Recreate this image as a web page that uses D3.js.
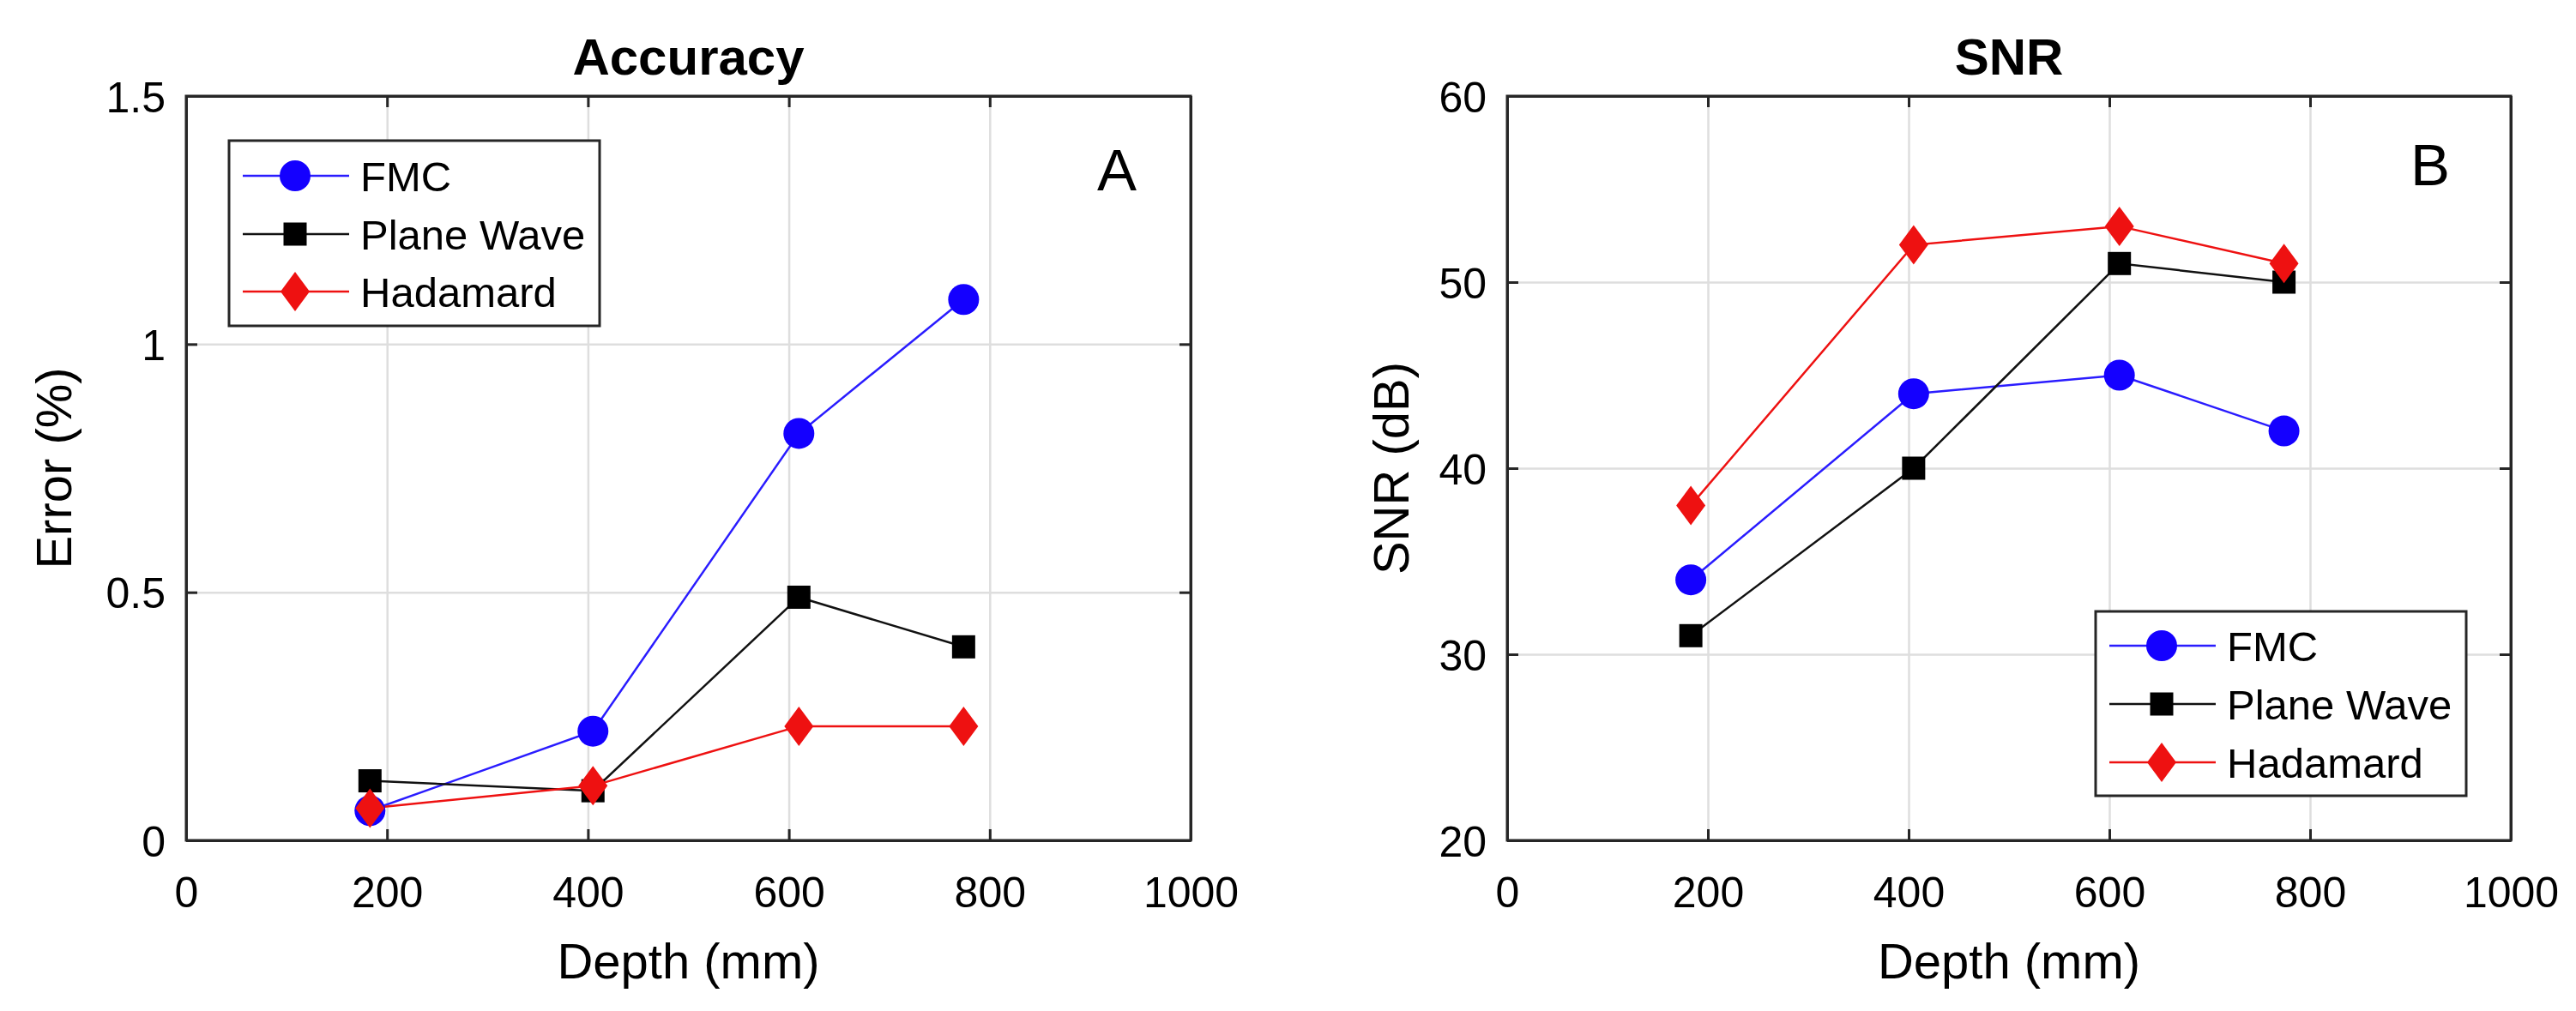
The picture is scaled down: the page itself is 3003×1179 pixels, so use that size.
<!DOCTYPE html>
<html>
<head>
<meta charset="utf-8">
<script src="https://cdn.jsdelivr.net/npm/d3@7"></script>
<style>
  html, body { margin: 0; padding: 0; background: #fff; }
  svg { display: block; }
  text { font-family: "Liberation Sans", Arial, Helvetica, sans-serif; fill: #000; }
</style>
</head>
<body>
<svg id="chart" width="3003" height="1179"></svg>
<script>
// ---------- data ----------
const depth = [183, 405, 610, 774];
const seriesNames = ["FMC", "Plane Wave", "Hadamard"];
const errFMC = [0.06, 0.22, 0.82, 1.09];
const errPW  = [0.12, 0.10, 0.49, 0.39];
const errHad = [0.065, 0.11, 0.23, 0.23];
const snrFMC = [34, 44, 45, 42];
const snrPW  = [31, 40, 51, 50];
const snrHad = [38, 52, 53, 51];
const xTicks = [0, 200, 400, 600, 800, 1000];
const xTickLabels = ["0", "200", "400", "600", "800", "1000"];
const errTicks = [0, 0.5, 1, 1.5];
const errTickLabels = ["0", "0.5", "1", "1.5"];
const snrTicks = [20, 30, 40, 50, 60];
const snrTickLabels = ["20", "30", "40", "50", "60"];

// ---------- styles ----------
const colors = ["#1400ff", "#000000", "#ee1111"];
const lineColors = ["#2a1cff", "#111111", "#ee1111"];
const markers = ["circle", "square", "diamond"];
const axisColor = "#262626";
const gridColor = "#dedede";

const svg = d3.select("#chart");

function markerPath(type) {
  if (type === "circle") return d3.symbol().type(d3.symbolCircle).size(Math.PI * 18 * 18)();
  if (type === "square") return "M-13.5,-13.5H13.5V13.5H-13.5Z";
  return "M0,-23L17,0L0,23L-17,0Z";
}

function panel(cfg) {
  const g = svg.append("g");
  const x = d3.scaleLinear().domain([0, 1000]).range([cfg.left, cfg.right]);
  const y = d3.scaleLinear().domain(cfg.yDomain).range([cfg.bottom, cfg.top]);
  const H = cfg.bottom - cfg.top, W = cfg.right - cfg.left;

  // grid
  g.append("g").attr("class", "grid").attr("transform", `translate(0,${cfg.bottom})`)
    .call(d3.axisBottom(x).tickValues(xTicks.slice(1, -1)).tickSize(-H).tickFormat(""))
    .call(s => { s.select(".domain").remove(); s.selectAll("line").attr("stroke", gridColor).attr("stroke-width", 2.5); });
  g.append("g").attr("class", "grid").attr("transform", `translate(${cfg.left},0)`)
    .call(d3.axisLeft(y).tickValues(cfg.yTicks.slice(1, -1)).tickSize(-W).tickFormat(""))
    .call(s => { s.select(".domain").remove(); s.selectAll("line").attr("stroke", gridColor).attr("stroke-width", 2.5); });

  // series
  const data = cfg.series;
  data.forEach((vals, i) => {
    const pts = depth.map((d, j) => [d, vals[j]]);
    g.append("path").datum(pts)
      .attr("fill", "none").attr("stroke", lineColors[i]).attr("stroke-width", 2.5)
      .attr("d", d3.line().x(d => x(d[0])).y(d => y(d[1])));
  });
  data.forEach((vals, i) => {
    g.selectAll(null).data(depth.map((d, j) => [d, vals[j]])).enter()
      .append("path")
      .attr("d", markerPath(markers[i]))
      .attr("transform", d => `translate(${x(d[0])},${y(d[1])})`)
      .attr("fill", colors[i]);
  });

  // axes (ticks inward on all four sides)
  const tickLen = 13;
  const axes = g.append("g").attr("class", "axes");
  const bottomAx = axes.append("g").attr("transform", `translate(0,${cfg.bottom})`)
    .call(d3.axisBottom(x).tickValues(xTicks).tickFormat((d, i) => xTickLabels[i])
      .tickSizeInner(-tickLen).tickSizeOuter(0).tickPadding(0));
  bottomAx.selectAll("text").attr("y", 78).attr("dy", 0).style("font-size", "50px");
  const leftAx = axes.append("g").attr("transform", `translate(${cfg.left},0)`)
    .call(d3.axisLeft(y).tickValues(cfg.yTicks).tickFormat((d, i) => cfg.yTickLabels[i])
      .tickSizeInner(-tickLen).tickSizeOuter(0).tickPadding(0));
  leftAx.selectAll("text").attr("x", -24).attr("dy", "0.36em").style("font-size", "50px");
  axes.append("g").attr("transform", `translate(0,${cfg.top})`)
    .call(d3.axisTop(x).tickValues(xTicks).tickSizeInner(-tickLen).tickSizeOuter(0).tickFormat(""));
  axes.append("g").attr("transform", `translate(${cfg.right},0)`)
    .call(d3.axisRight(y).tickValues(cfg.yTicks).tickSizeInner(-tickLen).tickSizeOuter(0).tickFormat(""));
  axes.selectAll(".tick line").attr("stroke", axisColor).attr("stroke-width", 3);
  axes.selectAll(".domain").attr("stroke", axisColor).attr("stroke-width", 3);
  axes.selectAll("text").attr("fill", "#000");

  // box border
  g.append("rect").attr("x", cfg.left).attr("y", cfg.top).attr("width", W).attr("height", H)
    .attr("fill", "none").attr("stroke", axisColor).attr("stroke-width", 3);

  // titles / labels
  g.append("text").attr("x", (cfg.left + cfg.right) / 2).attr("y", 87)
    .attr("text-anchor", "middle").style("font-size", "60px").style("font-weight", "bold").text(cfg.title);
  g.append("text").attr("x", (cfg.left + cfg.right) / 2).attr("y", 1141)
    .attr("text-anchor", "middle").style("font-size", "58px").text("Depth (mm)");
  g.append("text").attr("transform", `translate(${cfg.yLabelX},${(cfg.top + cfg.bottom) / 2}) rotate(-90)`)
    .attr("text-anchor", "middle").style("font-size", "58px").text(cfg.yLabel);
  g.append("text").attr("x", cfg.letterX).attr("y", cfg.letterY)
    .attr("text-anchor", "middle").style("font-size", "69px").text(cfg.letter);

  // legend
  const L = cfg.legend;
  const lg = g.append("g");
  lg.append("rect").attr("x", L.x).attr("y", L.y).attr("width", 432).attr("height", L.h)
    .attr("fill", "#fff").attr("stroke", axisColor).attr("stroke-width", 3);
  seriesNames.forEach((name, i) => {
    const cy = L.rowY[i];
    lg.append("line").attr("x1", L.x + 16).attr("x2", L.x + 140).attr("y1", cy).attr("y2", cy)
      .attr("stroke", lineColors[i]).attr("stroke-width", 2.5);
    lg.append("path").attr("d", markerPath(markers[i])).attr("transform", `translate(${L.x + 77},${cy})`)
      .attr("fill", colors[i]);
    lg.append("text").attr("x", L.x + 153).attr("y", cy).attr("dy", "0.36em")
      .style("font-size", "49px").text(name);
  });
}

panel({
  left: 217, right: 1388, top: 112, bottom: 980,
  yDomain: [0, 1.5], yTicks: errTicks, yTickLabels: errTickLabels,
  series: [errFMC, errPW, errHad],
  title: "Accuracy", yLabel: "Error (%)", yLabelX: 83,
  letter: "A", letterX: 1302, letterY: 222,
  legend: { x: 267, y: 164, h: 216, rowY: [205, 273, 340] }
});
panel({
  left: 1757, right: 2927, top: 112, bottom: 980,
  yDomain: [20, 60], yTicks: snrTicks, yTickLabels: snrTickLabels,
  series: [snrFMC, snrPW, snrHad],
  title: "SNR", yLabel: "SNR (dB)", yLabelX: 1642,
  letter: "B", letterX: 2833, letterY: 216,
  legend: { x: 2443, y: 713, h: 215, rowY: [753, 821, 889] }
});
</script>
</body>
</html>
